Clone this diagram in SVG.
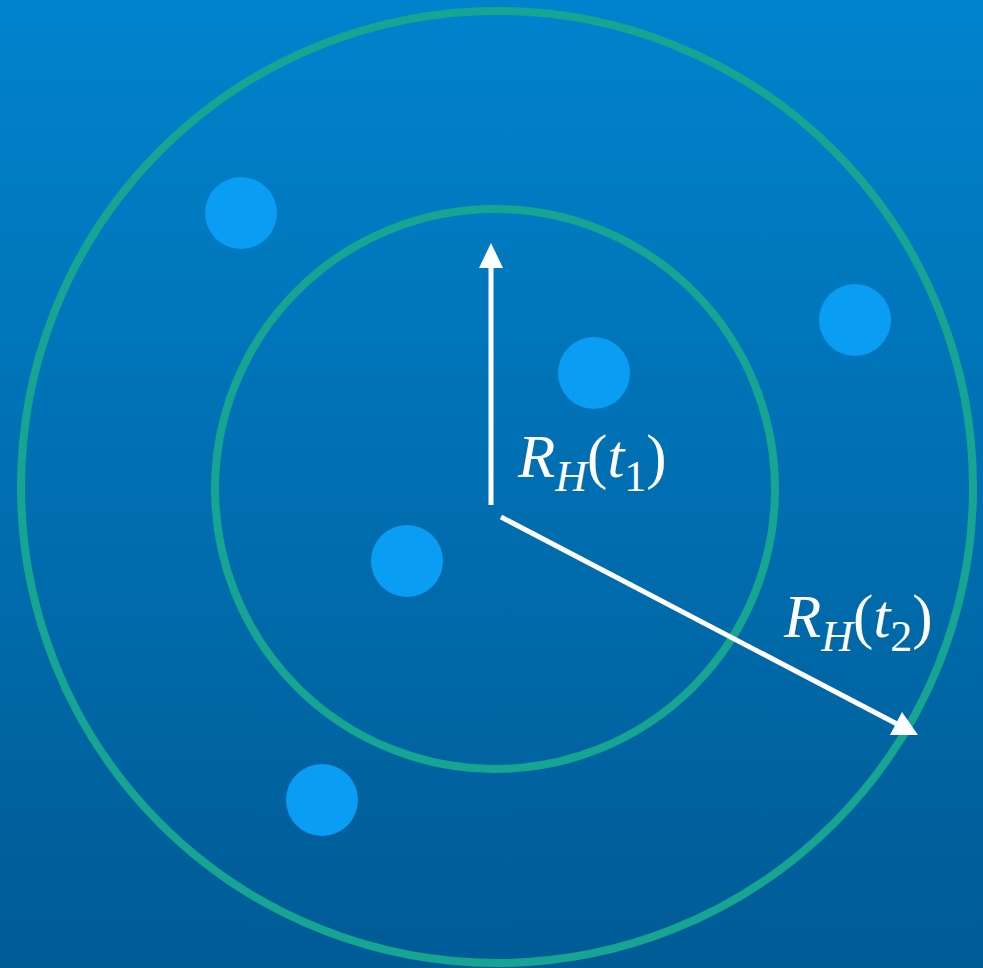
<svg xmlns="http://www.w3.org/2000/svg" width="983" height="968" viewBox="0 0 983 968">
<defs>
<linearGradient id="bg" x1="0" y1="0" x2="0" y2="1">
<stop offset="0" stop-color="#0083cd"/>
<stop offset="1" stop-color="#005b95"/>
</linearGradient>
<style>
.ring{fill:none;stroke:#17a593;stroke-width:8}
.dot{fill:#0a9df4}
.arr{stroke:#ffffff;stroke-width:5;fill:none}
.lbl{font-family:"Liberation Serif",serif;fill:#ffffff}
</style>
</defs>
<rect width="983" height="968" fill="url(#bg)"/>
<g id="outer-ring"><circle class="ring" cx="497" cy="487" r="476"/></g>
<g id="inner-ring"><circle class="ring" cx="495" cy="489" r="280"/></g>
<g id="dot1"><circle class="dot" cx="241" cy="213" r="36"/></g>
<g id="dot2"><circle class="dot" cx="855" cy="320" r="36"/></g>
<g id="dot3"><circle class="dot" cx="594" cy="373" r="36"/></g>
<g id="dot4"><circle class="dot" cx="407" cy="561" r="36"/></g>
<g id="dot5"><circle class="dot" cx="322" cy="800" r="36"/></g>
<g id="connectors">
<line class="arr" x1="491" y1="505" x2="491" y2="266"/>
<path d="M491,243 L503,268 L479,268 Z" fill="#ffffff"/>
<line class="arr" x1="501" y1="517" x2="897" y2="724"/>
<path d="M918,735 L890,735 L902,712 Z" fill="#ffffff"/>
</g>
<g id="label1">
<text class="lbl" x="518" y="477" font-size="61"><tspan font-style="italic">R</tspan><tspan font-style="italic" font-size="44" dy="14">H</tspan><tspan dy="-14">(</tspan><tspan font-style="italic">t</tspan><tspan font-size="44" dy="14">1</tspan><tspan dy="-14">)</tspan></text>
</g>
<g id="label2">
<text class="lbl" x="784" y="637" font-size="61"><tspan font-style="italic">R</tspan><tspan font-style="italic" font-size="44" dy="14">H</tspan><tspan dy="-14">(</tspan><tspan font-style="italic">t</tspan><tspan font-size="44" dy="14">2</tspan><tspan dy="-14">)</tspan></text>
</g>
</svg>
